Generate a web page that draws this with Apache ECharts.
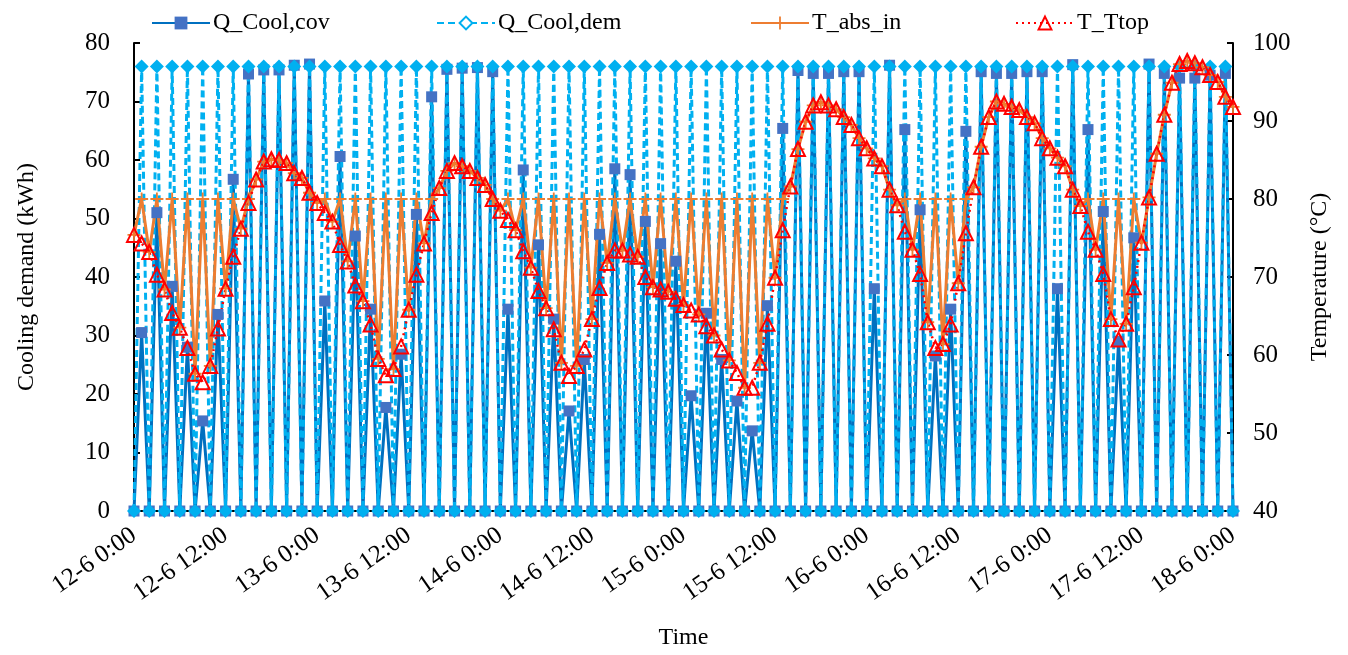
<!DOCTYPE html>
<html>
<head>
<meta charset="utf-8">
<script src="https://cdn.jsdelivr.net/npm/echarts@6/dist/echarts.min.js"></script>
<style>html,body{margin:0;padding:0;background:#fff}#c{width:1348px;height:655px}</style>
</head>
<body>
<div id="c"></div>
<script>
// Tick labels for the time axis (every 12 hours)
var timeTicks = ['12-6 0:00','12-6 12:00','13-6 0:00','13-6 12:00','14-6 0:00','14-6 12:00','15-6 0:00','15-6 12:00','16-6 0:00','16-6 12:00','17-6 0:00','17-6 12:00','18-6 0:00'];

// Hourly values, hour 0 .. 144
var qCoolCov = [0,30.5,0,51,0,38.4,0,28,0,15.4,
0,33.6,0,56.7,0,74.7,0,75.4,0,75.4,
0,76.2,0,76.4,0,35.9,0,60.6,0,47,
0,34.5,0,17.7,0,26.8,0,50.7,0,70.8,
0,75.5,0,75.7,0,75.8,0,75.1,0,34.5,
0,58.3,0,45.5,0,32.8,0,17.1,0,25.9,
0,47.3,0,58.5,0,57.5,0,49.5,0,45.7,
0,42.7,0,19.7,0,33.8,0,25.9,0,18.8,
0,13.7,0,35.1,0,65.4,0,75.3,0,74.8,
0,74.8,0,75.1,0,75.1,0,38,0,76.2,
0,65.2,0,51.5,0,26.5,0,34.5,0,64.9,
0,75.1,0,74.8,0,74.8,0,75.1,0,75.1,
0,38,0,76.3,0,65.2,0,51.2,0,29,
0,46.7,0,76.4,0,74.8,0,74,0,74,
0,74.5,0,74.8,0];

var qCoolDem = [0,76,0,76,0,76,0,76,0,76,
0,76,0,76,0,76,0,76,0,76,
0,76,0,76,0,76,0,76,0,76,
0,76,0,76,0,76,0,76,0,76,
0,76,0,76,0,76,0,76,0,76,
0,76,0,76,0,76,0,76,0,76,
0,76,0,76,0,76,0,76,0,76,
0,76,0,76,0,76,0,76,0,76,
0,76,0,76,0,76,0,76,0,76,
0,76,0,76,0,76,0,76,0,76,
0,76,0,76,0,76,0,76,0,76,
0,76,0,76,0,76,0,76,0,76,
0,76,0,76,0,76,0,76,0,76,
0,76,0,76,0,76,0,76,0,76,
0,76,0,76,0];

var tAbsIn = [75.4,80,73.2,80,68.4,80,63.5,80,57.6,80,
58.6,80,68.5,80,76.2,80,82.5,84.8,85.1,85.0,
84.6,83.3,82.7,80.8,79.5,80,77.1,80,72.0,80,
66.9,80,59.5,80,58.2,80,65.8,80,74.3,80,
81.4,83.6,84.6,84.2,83.6,82.7,81.8,80.0,78.5,80,
76.0,80,71.2,80,66.0,80,59.0,80,58.6,80,
64.6,80,71.8,80,73.4,80,72.6,80,68.7,80,
68.1,80,66.4,80,65.2,80,62.5,80,59.3,80,
55.8,80,59.0,80,69.9,80,81.6,86.4,89.9,92.0,
92.4,92.0,91.5,90.5,89.5,87.8,86.5,85.2,84.2,81.2,
79.2,80,73.5,80,64.2,80,61.4,80,69.2,80,
81.5,86.7,90.5,92.5,92.2,91.8,91.4,90.5,89.7,87.8,
86.5,85.3,84.2,81.2,79.1,80,73.5,80,64.6,80,
64.0,80,74.4,80.2,85.8,90.8,94.9,97.3,97.7,97.4,
96.9,95.9,95.0,93.1,91.8];

var tTtop = [75.4,74.3,73.2,70.3,68.4,65.4,63.5,60.9,57.6,56.5,
58.6,63.4,68.5,72.6,76.2,79.5,82.5,84.8,85.1,85.0,
84.6,83.3,82.7,80.8,79.5,78.2,77.1,74.1,72.0,68.9,
66.9,63.9,59.5,57.4,58.2,61.1,65.8,70.3,74.3,78.2,
81.4,83.6,84.6,84.2,83.6,82.7,81.8,80.0,78.5,77.3,
76.0,73.3,71.2,68.2,66.0,63.3,59.0,57.3,58.6,60.7,
64.6,68.6,71.8,73.4,73.4,72.9,72.6,70.0,68.7,68.4,
68.1,67.2,66.4,65.7,65.2,63.7,62.5,60.7,59.3,57.7,
55.8,55.8,59.0,64.0,69.9,76.0,81.6,86.4,89.9,92.0,
92.4,92.0,91.5,90.5,89.5,87.8,86.5,85.2,84.2,81.2,
79.2,75.8,73.5,70.4,64.2,60.9,61.4,63.9,69.2,75.6,
81.5,86.7,90.5,92.5,92.2,91.8,91.4,90.5,89.7,87.8,
86.5,85.3,84.2,81.2,79.1,75.8,73.5,70.4,64.6,62.0,
64.0,68.7,74.4,80.2,85.8,90.8,94.9,97.3,97.7,97.4,
96.9,95.9,95.0,93.1,91.8];

function pairs(arr){ return arr.map(function(v,i){ return [i, v]; }); }

var FONT = 'Liberation Serif';
var FS = 24;
var TFS = 25;
var plusPath = 'path://M4.3,0 L5.7,0 L5.7,4.3 L10,4.3 L10,5.7 L5.7,5.7 L5.7,10 L4.3,10 L4.3,5.7 L0,5.7 L0,4.3 L4.3,4.3 Z';

var chart = echarts.init(document.getElementById('c'), null, {renderer:'canvas'});
function lg(item, left){
  return {show:true, data:[item], left:left, top:6, itemWidth:58, itemHeight:16,
    textStyle:{fontFamily:FONT, fontSize:FS, color:'#000', padding:[0,0,0,-2]}, itemGap:0};
}
chart.setOption({
  animation:false,
  backgroundColor:'#fff',
  textStyle:{fontFamily:FONT},
  legend:[lg('Q_Cool,cov',146),
    lg({name:'Q_Cool,dem', itemStyle:{color:'#fff', borderColor:'#00B0F0', borderWidth:2}},431),
    lg('T_abs_in',745), lg('T_Ttop',1010)],
  grid:{left:134, right:115, top:43, bottom:143, containLabel:false},
  xAxis:{type:'value', min:0, max:144, interval:12,
    name:'Time', nameLocation:'middle', nameGap:115,
    nameTextStyle:{fontFamily:FONT, fontSize:FS, color:'#000'},
    axisLine:{show:true, onZero:false, lineStyle:{color:'#000', width:2}},
    axisTick:{show:false},
    splitLine:{show:false},
    axisLabel:{rotate:35, fontFamily:FONT, fontSize:TFS, color:'#000', margin:22,
      formatter:function(v){ return timeTicks[Math.round(v/12)]; }}
  },
  yAxis:[{type:'value', min:0, max:80, interval:10,
    name:'Cooling demand (kWh)', nameLocation:'middle', nameGap:95, nameRotate:90,
    nameTextStyle:{fontFamily:FONT, fontSize:FS, color:'#000'},
    axisLine:{show:true, lineStyle:{color:'#000', width:2}},
    axisTick:{show:true, inside:true, length:6, lineStyle:{color:'#000', width:2}},
    splitLine:{show:false},
    axisLabel:{fontFamily:FONT, fontSize:TFS, color:'#000', margin:24}
  },{type:'value', min:40, max:100, interval:10,
    name:'Temperature (°C)', nameLocation:'middle', nameGap:75, nameRotate:90,
    nameTextStyle:{fontFamily:FONT, fontSize:FS, color:'#000'},
    axisLine:{show:true, lineStyle:{color:'#000', width:2}},
    axisTick:{show:true, inside:true, length:6, lineStyle:{color:'#000', width:2}},
    splitLine:{show:false},
    axisLabel:{fontFamily:FONT, fontSize:TFS, color:'#000', margin:20}
  }],
  series:[
    {name:'Q_Cool,cov', type:'line', yAxisIndex:0, data:pairs(qCoolCov),
      symbol:'rect', symbolSize:11, showAllSymbol:true,
      itemStyle:{color:'#4472C4'}, lineStyle:{color:'#0070C0', width:3}},
    {name:'Q_Cool,dem', type:'line', yAxisIndex:0, data:pairs(qCoolDem),
      symbol:'diamond', symbolSize:14, showAllSymbol:true,
      itemStyle:{color:'#00B0F0'}, lineStyle:{color:'#00B0F0', width:3, type:[7,4]}},
    {name:'T_abs_in', type:'line', yAxisIndex:1, data:pairs(tAbsIn),
      symbol:plusPath, symbolSize:13, showAllSymbol:true,
      itemStyle:{color:'#ED7D31'}, lineStyle:{color:'#ED7D31', width:3}},
    {name:'T_Ttop', type:'line', yAxisIndex:1, data:pairs(tTtop),
      symbol:'triangle', symbolSize:14, showAllSymbol:true,
      itemStyle:{color:'rgba(255,255,255,0)', borderColor:'#FF0000', borderWidth:2},
      lineStyle:{color:'#FF0000', width:2.5, type:[2,4]}}
  ]
});
</script>
</body>
</html>
